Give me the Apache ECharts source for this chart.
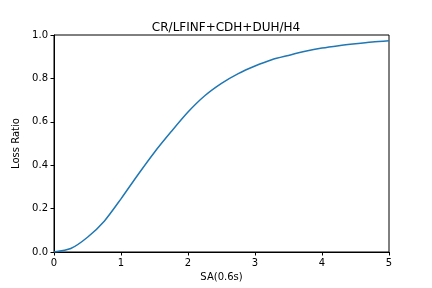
<!DOCTYPE html>
<html>
<head>
<meta charset="utf-8">
<script src="https://cdn.jsdelivr.net/npm/echarts@6/dist/echarts.min.js"></script>
<style>
html, body { margin: 0; padding: 0; background: #fff; }
#chart { width: 432px; height: 288px; }
</style>
</head>
<body>
<div id="chart"></div>
<script>
// SA values and the loss ratio
var saValues = [0, 0.25, 0.5, 0.75, 1.0, 1.25, 1.5, 1.75, 2.0, 2.25, 2.5, 2.75,
    3.0, 3.25, 3.5, 3.75, 4.0, 4.25, 4.5, 4.75, 5.0];
var lossRatio = [0, 0.016, 0.068, 0.142, 0.245, 0.355, 0.46, 0.555, 0.645, 0.72, 0.777, 0.822,
    0.857, 0.886, 0.906, 0.925, 0.94, 0.951, 0.96, 0.968, 0.974];
var xTicks = [0, 1, 2, 3, 4, 5];

var font = 'DejaVu Sans';
var chart = echarts.init(document.getElementById('chart'));

var option = {
    animation: false,
    title: {
        text: 'CR/LFINF+CDH+DUH/H4',
        left: 221,
        textAlign: 'center',
        top: 17,
        textStyle: { fontFamily: font, fontSize: 12, fontWeight: 'normal', color: '#000' }
    },
    grid: {
        left: 54,
        right: 43,
        top: 35,
        bottom: 36,
        show: true,
        borderColor: '#000',
        borderWidth: 1,
        backgroundColor: 'transparent'
    },
    xAxis: {
        type: 'value',
        min: 0,
        max: 5,
        interval: 1,
        name: 'SA(0.6s)',
        nameLocation: 'middle',
        nameGap: 20,
        nameTextStyle: { fontFamily: font, fontSize: 10, color: '#000' },
        axisLine: { show: true, lineStyle: { color: '#000' } },
        axisTick: { show: true, length: 3.5, lineStyle: { color: '#000' } },
        axisLabel: {
            fontFamily: font, fontSize: 10, color: '#000', margin: 6,
            formatter: function (v) { return xTicks.indexOf(v) >= 0 ? String(v) : ''; }
        },
        splitLine: { show: false }
    },
    yAxis: {
        type: 'value',
        min: 0,
        max: 1,
        interval: 0.2,
        name: 'Loss Ratio',
        nameLocation: 'middle',
        nameGap: 26,
        nameTextStyle: { fontFamily: font, fontSize: 10, color: '#000' },
        axisLine: { show: true, lineStyle: { color: '#000' } },
        axisTick: { show: true, length: 3.5, lineStyle: { color: '#000' } },
        axisLabel: {
            fontFamily: font, fontSize: 10, color: '#000', margin: 6,
            formatter: function (v) { return v.toFixed(1); }
        },
        splitLine: { show: false }
    },
    series: [{
        type: 'line',
        data: saValues.map(function (x, i) { return [x, lossRatio[i]]; }),
        smooth: 0.25,
        showSymbol: false,
        lineStyle: { color: '#1f77b4', width: 1.5 },
        itemStyle: { color: '#1f77b4' }
    }]
};

chart.setOption(option);
</script>
</body>
</html>
